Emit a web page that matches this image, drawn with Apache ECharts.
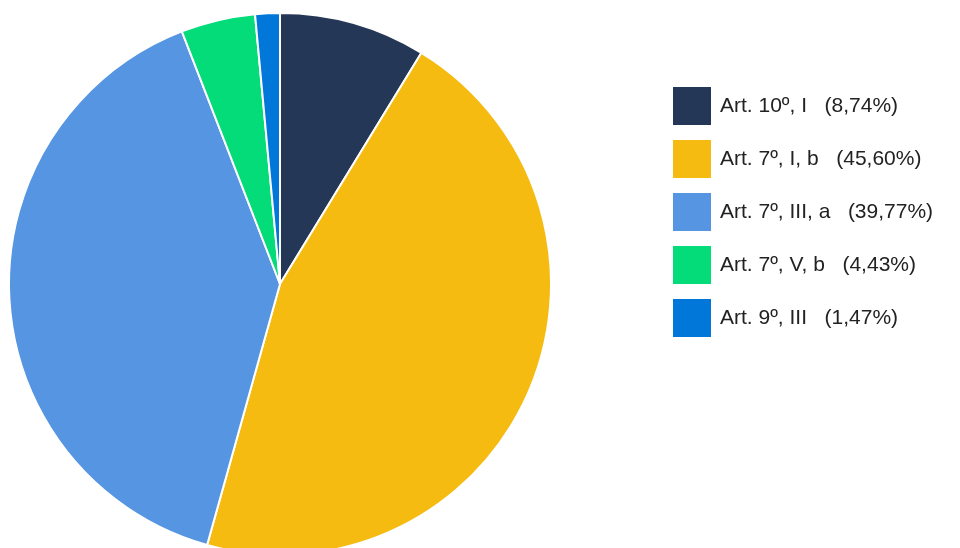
<!DOCTYPE html>
<html>
<head>
<meta charset="utf-8">
<script src="https://cdn.jsdelivr.net/npm/echarts@6/dist/echarts.min.js"></script>
<style>
  html, body { margin: 0; padding: 0; background: #ffffff; }
  #chart { width: 960px; height: 548px; }
</style>
</head>
<body>
<div id="chart"></div>
<script>
// Categories, shares (%) and slice colours
const categories = ['Art. 10º, I', 'Art. 7º, I, b', 'Art. 7º, III, a', 'Art. 7º, V, b', 'Art. 9º, III'];
const shares = [8.74, 45.60, 39.77, 4.43, 1.47];
const colors = ['#253756', '#f5bb11', '#5595e2', '#03dc79', '#0177d9'];

const fmt = v => v.toFixed(2).replace('.', ',') + '%';

const chart = echarts.init(document.getElementById('chart'), null, { renderer: 'canvas' });
chart.setOption({
  animation: false,
  color: colors,
  legend: {
    orient: 'vertical',
    left: 673,
    top: 87,
    padding: 0,
    icon: 'rect',
    itemWidth: 38,
    itemHeight: 38,
    itemGap: 15,
    itemStyle: { borderWidth: 0 },
    textStyle: {
      fontFamily: 'Liberation Sans, Arial, sans-serif',
      fontSize: 21,
      color: '#222222',
      padding: [0, 0, 0, 4]
    },
    formatter: name => {
      const i = categories.indexOf(name);
      return name + '   (' + fmt(shares[i]) + ')';
    },
    data: categories
  },
  series: [{
    type: 'pie',
    center: [280, 284],
    radius: [0, 271],
    startAngle: 90,
    clockwise: true,
    label: { show: false },
    labelLine: { show: false },
    emphasis: { disabled: true },
    itemStyle: { borderColor: '#ffffff', borderWidth: 2 },
    data: categories.map((c, i) => ({ name: c, value: shares[i] }))
  }]
});
</script>
</body>
</html>
